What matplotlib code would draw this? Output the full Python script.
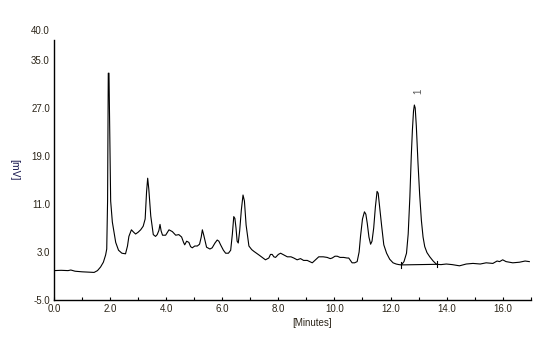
import matplotlib
matplotlib.use('Agg')
import matplotlib.pyplot as plt

time_min = [
    0.0, 0.25, 0.5, 0.6, 0.75, 1.0, 1.2, 1.43, 1.55, 1.66,
    1.76, 1.84, 1.88, 1.91, 1.935, 1.96, 1.985, 2.02, 2.08, 2.2,
    2.3, 2.42, 2.55, 2.62, 2.67, 2.76, 2.84, 2.91, 3.0, 3.09,
    3.18, 3.25, 3.3, 3.34, 3.38, 3.45, 3.54, 3.62, 3.68, 3.74,
    3.78, 3.82, 3.87, 3.98, 4.1, 4.22, 4.34, 4.45, 4.55, 4.62,
    4.66, 4.73, 4.81, 4.87, 4.93, 5.02, 5.11, 5.19, 5.25, 5.29,
    5.34, 5.44, 5.56, 5.64, 5.74, 5.82, 5.88, 5.94, 6.04, 6.12,
    6.22, 6.3, 6.36, 6.41, 6.45, 6.49, 6.53, 6.57, 6.62, 6.68,
    6.74, 6.79, 6.85, 6.95, 7.05, 7.13, 7.31, 7.45, 7.54, 7.66,
    7.72, 7.78, 7.84, 7.9, 8.0, 8.08, 8.2, 8.32, 8.45, 8.55,
    8.67, 8.79, 8.9, 9.03, 9.12, 9.21, 9.3, 9.44, 9.6, 9.74,
    9.85, 9.92, 10.02, 10.1, 10.2, 10.33, 10.45, 10.51, 10.57, 10.63,
    10.72, 10.81, 10.88, 10.93, 11.0, 11.07, 11.12, 11.17, 11.23, 11.29,
    11.34, 11.4, 11.46, 11.52, 11.56, 11.6, 11.68, 11.76, 11.86, 11.97,
    12.09, 12.2, 12.3, 12.39, 12.48, 12.57, 12.63, 12.69, 12.74, 12.78,
    12.82, 12.85, 12.88, 12.92, 12.98, 13.04, 13.1, 13.16, 13.22, 13.3,
    13.4, 13.52, 13.64, 13.8, 13.99, 14.2, 14.46, 14.7, 14.94, 15.2,
    15.41, 15.65, 15.8, 15.89, 16.0, 16.12, 16.36, 16.6, 16.8, 16.95,
]
signal_mv = [
    -0.1, -0.05, -0.1, 0.0, -0.2, -0.3, -0.35, -0.4, -0.1, 0.5,
    1.3, 2.5, 3.5, 11.5, 32.8, 32.8, 23.5, 11.5, 8.0, 4.6,
    3.3, 2.8, 2.7, 4.0, 5.6, 6.7, 6.3, 6.0, 6.3, 6.7,
    7.3, 8.5, 13.0, 15.3, 13.5, 9.0, 5.9, 5.6, 5.9, 6.6,
    7.6, 6.5, 5.8, 5.8, 6.7, 6.4, 5.8, 5.9, 5.5, 4.6,
    4.2, 4.8, 4.6, 3.9, 3.7, 4.0, 4.0, 4.3, 5.5, 6.7,
    5.8, 3.8, 3.5, 3.7, 4.5, 5.0, 4.8, 4.2, 3.3, 2.8,
    2.8, 3.3, 6.0, 8.9, 8.6, 7.0, 4.8, 4.5, 6.5, 10.0,
    12.5, 11.5, 7.5, 4.0, 3.4, 3.1, 2.5, 2.0, 1.7, 2.0,
    2.6, 2.6, 2.2, 2.1, 2.6, 2.8, 2.5, 2.2, 2.2, 2.0,
    1.7, 1.9, 1.6, 1.6, 1.4, 1.2, 1.6, 2.2, 2.2, 2.1,
    1.9, 2.0, 2.3, 2.3, 2.1, 2.1, 2.0, 2.0, 1.6, 1.2,
    1.2, 1.4, 3.0, 5.6, 8.5, 9.7, 9.3, 7.8, 5.5, 4.3,
    4.8, 7.0, 10.5, 13.1, 12.8, 11.0, 7.5, 4.2, 2.8, 1.8,
    1.2, 1.0, 0.9, 0.85, 1.4, 2.8, 6.0, 12.2, 19.0, 23.3,
    26.5, 27.5, 27.0, 24.0, 17.8, 12.5, 8.3, 5.5, 3.9, 2.9,
    2.2, 1.5, 0.95, 0.9, 1.0, 0.9, 0.7, 1.0, 1.1, 1.0,
    1.2, 1.1, 1.5, 1.4, 1.7, 1.4, 1.2, 1.3, 1.5, 1.4,
]

# integration baseline of peak 1
baseline_t = [12.39, 13.64]
baseline_v = [0.85, 0.95]
peak_label = '1'
peak_label_pos = (13.0, 29.8)

y_ticks = [-5.0, 3.0, 11.0, 19.0, 27.0, 35.0, 40.0]
x_ticks = [0.0, 2.0, 4.0, 6.0, 8.0, 10.0, 12.0, 14.0, 16.0]

text_color = '#2b2418'


def draw_chromatogram():
    plt.rcParams['font.family'] = ['Liberation Sans', 'DejaVu Sans']
    fig = plt.figure(figsize=(5.54, 3.39), dpi=100)
    ax = fig.add_axes([0.0975, 0.115, 0.8605, 0.7965])

    ax.plot(time_min, signal_mv, color='black', linewidth=0.8)

    # baseline with small end markers
    ax.plot(baseline_t, baseline_v, color='black', linewidth=0.8)
    for bt, bv in zip(baseline_t, baseline_v):
        ax.plot([bt, bt], [bv - 0.5, bv + 0.5], color='black', linewidth=0.8)

    ax.text(peak_label_pos[0], peak_label_pos[1], peak_label, rotation=90,
            ha='center', va='center', fontsize=7, color='#555555')

    ax.set_xlim(0, 17)
    ax.set_ylim(-5, 40)
    ax.set_xticks(x_ticks)
    ax.set_xticks([t + 1 for t in x_ticks], minor=True)
    ax.set_xticklabels([f'{t:.1f}' for t in x_ticks])
    ax.set_yticks(y_ticks)
    ax.set_yticklabels([f'{v:.1f}' for v in y_ticks])

    for side in ['top', 'right']:
        ax.spines[side].set_visible(False)
    ax.spines['left'].set_bounds(-5, 38.3)
    for side in ['left', 'bottom']:
        ax.spines[side].set_linewidth(1.0)

    ax.tick_params(axis='x', which='both', direction='in', length=2,
                   width=0.8, labelsize=7, labelcolor=text_color, pad=3)
    ax.tick_params(axis='y', length=0, labelsize=7, labelcolor=text_color, pad=3)

    ax.set_xlabel('[Minutes]', fontsize=7, color=text_color, labelpad=3)
    ax.xaxis.label.set_x(0.541)
    fig.text(0.025, 0.5, '[mV]', rotation=270, ha='center', va='center',
             fontsize=7.5, color='#1a1a50')

    fig.savefig('out.png', dpi=100)


def main():
    draw_chromatogram()


if __name__ == "__main__":
    main()
